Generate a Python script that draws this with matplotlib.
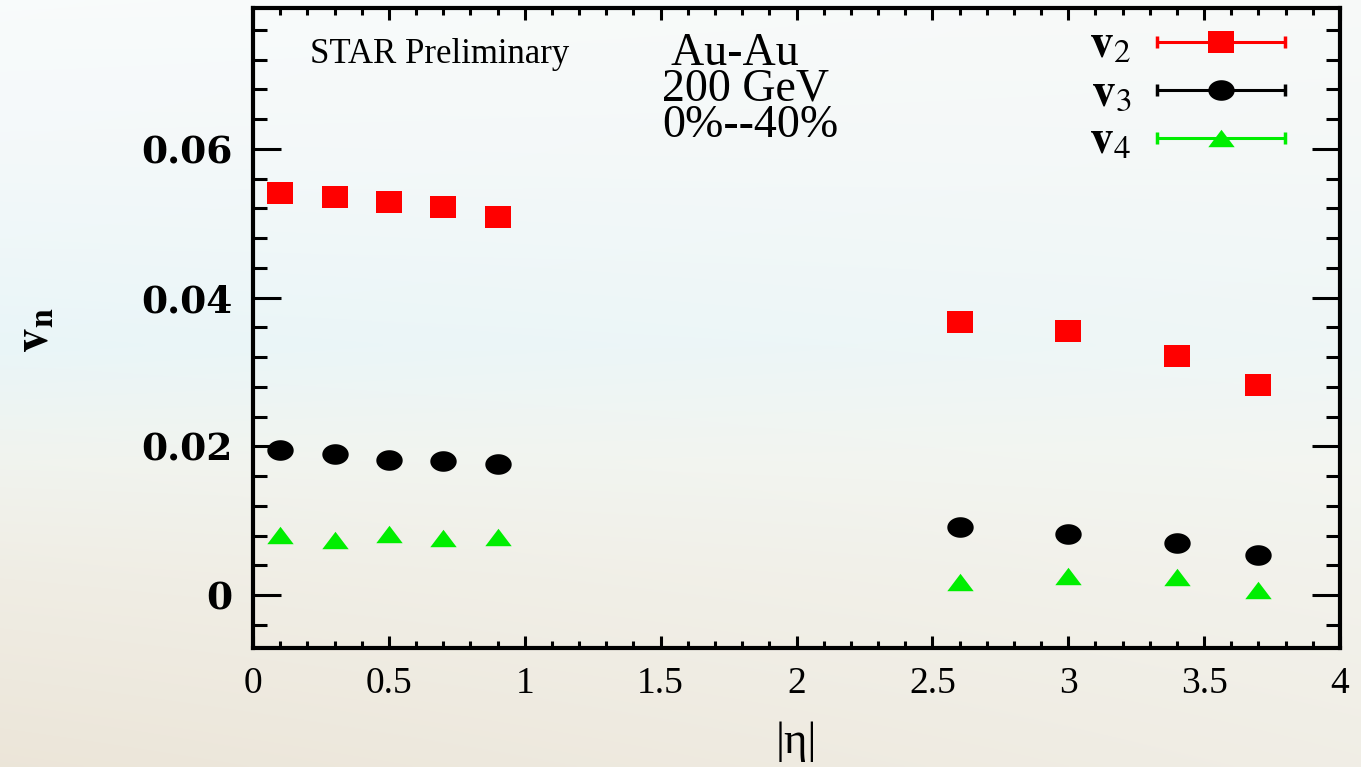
import numpy as np
import matplotlib
matplotlib.use("Agg")
import matplotlib.pyplot as plt
from matplotlib.ticker import MultipleLocator, FormatStrFormatter

# |eta| bins and flow harmonics
eta = [0.1, 0.3, 0.5, 0.7, 0.9, 2.6, 3.0, 3.4, 3.7]
v2 = [0.0541, 0.0535, 0.0529, 0.0522, 0.0508, 0.0367, 0.0355, 0.0322, 0.0282]
v3 = [0.0195, 0.0190, 0.0182, 0.0180, 0.0176, 0.0091, 0.0082, 0.0070, 0.0054]
v4 = [0.0081, 0.0074, 0.0082, 0.0077, 0.0078, 0.0017, 0.0026, 0.0024, 0.0007]

labels = [r'$\mathbf{v}_{2}$', r'$\mathbf{v}_{3}$', r'$\mathbf{v}_{4}$']
colors = ['#ff0000', '#000000', '#00ee00']

plt.rcParams['mathtext.fontset'] = 'stix'
plt.rcParams['font.family'] = ['Liberation Serif', 'DejaVu Serif']

# squashed markers like in the original slide
sq = [(-1, -0.8), (1, -0.8), (1, 0.8), (-1, 0.8), (-1, -0.8)]
t = np.linspace(0, 2 * np.pi, 60)
ell = list(zip(np.cos(t), 0.78 * np.sin(t)))
tri = [(-1, -0.66), (1, -0.66), (0, 0.66), (-1, -0.66)]
markers = [sq, ell, tri]

fig = plt.figure(figsize=(13.61, 7.67), dpi=100)

# slide background gradient (top: pale cyan, bottom: beige)
bg = fig.add_axes([0, 0, 1, 1], zorder=-10)
bg.set_axis_off()
rows = np.linspace(0, 1, 300)
stops = [0.0, 0.2, 0.45, 0.6, 0.75, 1.0]
r = np.interp(rows, stops, [0.975, 0.955, 0.915, 0.945, 0.94, 0.925])
g = np.interp(rows, stops, [0.985, 0.975, 0.962, 0.955, 0.93, 0.9])
b = np.interp(rows, stops, [0.985, 0.98, 0.972, 0.935, 0.895, 0.85])
img = np.stack([r, g, b], axis=-1)[:, None, :].repeat(300, axis=1)
cols = np.linspace(0, 1, 300)
w = (0.45 * cols)[None, :, None]
img = img * (1 - w) + w * np.array([0.965, 0.972, 0.96])
bg.imshow(img, aspect='auto', extent=[0, 1, 0, 1], interpolation='bilinear')
bg.set_xlim(0, 1)
bg.set_ylim(0, 1)

ax = fig.add_axes([253 / 1361, 119 / 767, 1087 / 1361, 640 / 767])
ax.set_facecolor('none')

for y, c, m in zip([v2, v3, v4], colors, markers):
    ax.plot(eta, y, linestyle='none', marker=m, markersize=19,
            color=c, markeredgewidth=0, zorder=3)

ax.set_xlim(0, 4)
ax.set_ylim(-0.00713, 0.07895)

ax.xaxis.set_major_locator(MultipleLocator(0.5))
ax.xaxis.set_minor_locator(MultipleLocator(0.1))
ax.yaxis.set_major_locator(MultipleLocator(0.02))
ax.yaxis.set_minor_locator(MultipleLocator(0.004))
ax.xaxis.set_major_formatter(FormatStrFormatter('%g'))
ax.yaxis.set_major_formatter(FormatStrFormatter('%g'))

ax.tick_params(axis='both', which='both', direction='in', top=True,
               right=True, width=2.2, color='black')
ax.tick_params(axis='y', which='major', length=20, pad=15)
ax.tick_params(axis='y', which='minor', length=10)
ax.tick_params(axis='x', which='major', length=8.6, pad=13)
ax.tick_params(axis='x', which='minor', length=4.7)
for s in ax.spines.values():
    s.set_linewidth(3)

for lab in ax.get_yticklabels():
    lab.set_fontfamily('DejaVu Serif')
    lab.set_fontweight('bold')
    lab.set_fontsize(27)
for lab in ax.get_xticklabels():
    lab.set_fontsize(27)

ax.set_ylabel(r'$\mathbf{v}_{\mathbf{n}}$', fontsize=35)
ax.yaxis.set_label_coords(-0.18, 0.497)
ax.set_xlabel('|η|', fontsize=32)
ax.xaxis.set_label_coords(0.5, -0.115)

ax.text(0.0524, 0.9266, 'STAR Preliminary', transform=ax.transAxes,
        fontsize=25, va='center', ha='left')
ax.text(0.3763, 0.962, ' Au-Au\n200 GeV\n0%--40%', transform=ax.transAxes,
        fontsize=33, va='top', ha='left', linespacing=0.8)

# gnuplot-style key: label, horizontal bar with caps, marker in the middle
key_y = [0.9469, 0.8719, 0.7969]
x0, x1, xm = 0.8317, 0.9494, 0.8905
for lab, c, m, ky in zip(labels, colors, markers, key_y):
    ax.plot([x0, x1], [ky, ky], color=c, lw=2.2, transform=ax.transAxes,
            solid_capstyle='butt', zorder=3)
    ax.plot([x0, x1], [ky, ky], linestyle='none', marker='|', markersize=9,
            markeredgewidth=2.5, color=c, transform=ax.transAxes, zorder=3)
    ax.plot([xm], [ky], linestyle='none', marker=m, markersize=19, color=c,
            markeredgewidth=0, transform=ax.transAxes, zorder=4)
    ax.text(0.808, ky - 0.005, lab, transform=ax.transAxes, fontsize=34,
            ha='right', va='center')

fig.savefig('out.png', dpi=100)
